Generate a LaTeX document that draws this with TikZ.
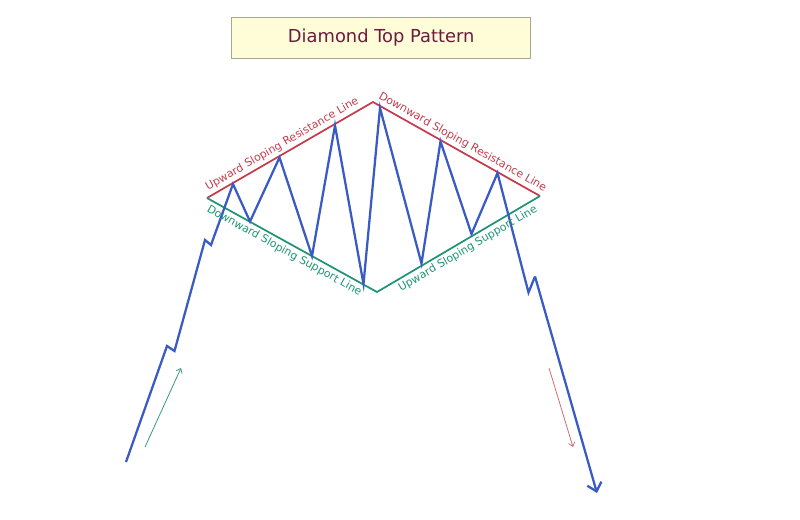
\documentclass[tikz,border=0pt]{standalone}
\usepackage{fontspec}
\setmainfont{DejaVu Sans}
\usetikzlibrary{arrows.meta}
\definecolor{zigblue}{HTML}{3A5BC4}
\definecolor{resred}{HTML}{C43C4C}
\definecolor{supgreen}{HTML}{1E9474}
\definecolor{titlecol}{HTML}{6B1B3F}
\definecolor{boxfill}{HTML}{FFFDD8}
\definecolor{boxline}{HTML}{A8A890}
\definecolor{upgreen}{HTML}{3A9A80}
\definecolor{downred}{HTML}{D07070}
\tikzset{
  zig/.style={draw=zigblue, line width=1.7pt, line join=miter},
  resline/.style={draw=resred, line width=1.3pt},
  supline/.style={draw=supgreen, line width=1.3pt},
  reslabel/.style={text=resred, font=\fontsize{8.2pt}{10pt}\selectfont, inner sep=1pt, sloped},
  suplabel/.style={text=supgreen, font=\fontsize{8.2pt}{10pt}\selectfont, inner sep=1pt, sloped},
  titlebox/.style={draw=boxline, fill=boxfill, line width=0.6pt, minimum width=224.25pt, minimum height=30.75pt, text=titlecol, font=\fontsize{13.4pt}{15pt}\selectfont},
  trendarrow/.style={line width=0.6pt, -{Straight Barb[length=3pt,width=5pt]}}
}
\begin{document}
\begin{tikzpicture}[x=0.75pt,y=-0.75pt]
\useasboundingbox (0,0) rectangle (800,519);
% title
\node[titlebox] (title) at (381.2,37.8) {Diamond Top Pattern};
% diamond vertices
\coordinate (L) at (207,198);
\coordinate (T) at (373,102);
\coordinate (R) at (540,196);
\coordinate (B) at (377,292);
% blue price path
\coordinate (s0) at (126,462);
\coordinate (s1) at (167,346);
\coordinate (s2) at (174.5,351);
\coordinate (s3) at (205,240);
\coordinate (s4) at (211,245);
\coordinate (p1) at (233,184);
\coordinate (t1) at (250,221.5);
\coordinate (p2) at (279.5,157.5);
\coordinate (t2) at (312,256);
\coordinate (p3) at (335,125.5);
\coordinate (t3) at (363.5,284);
\coordinate (p4) at (380,108);
\coordinate (t4) at (421.5,263.5);
\coordinate (p5) at (440.5,141.5);
\coordinate (t5) at (471.5,234);
\coordinate (p6) at (497.5,173);
\coordinate (e1) at (528.5,292.5);
\coordinate (e2) at (535,276.5);
\coordinate (e3) at (597,493);
% lines
\draw[resline] (L) -- (T) -- (R);
\draw[supline] (L) -- (B) -- (R);
\draw[zig] (s0) -- (s1) -- (s2) -- (s3) -- (s4) -- (p1) -- (t1) -- (p2) -- (t2) -- (p3) -- (t3) -- (p4) -- (t4) -- (p5) -- (t5) -- (p6) -- (e1) -- (e2);
\draw[zig, -{Straight Barb[length=6pt,width=11pt]}] (e2) -- (e3);
% labels
\path (L) -- (T) node[reslabel, pos=0.48, above=1.5pt] (lab1) {Upward Sloping Resistance Line};
\path (T) -- (R) node[reslabel, pos=0.51, above=1.5pt] (lab2) {Downward Sloping Resistance Line};
\path (L) -- (B) node[suplabel, pos=0.48, below=1.5pt] (lab3) {Downward Sloping Support Line};
\path (B) -- (R) node[suplabel, pos=0.53, below=1.5pt] (lab4) {Upward Sloping Support Line};
% trend arrows
\coordinate (ga) at (145,447);
\coordinate (gb) at (181,368);
\coordinate (ra) at (549,368);
\coordinate (rb) at (573,447);
\draw[trendarrow, draw=upgreen] (ga) -- (gb);
\draw[trendarrow, draw=downred] (ra) -- (rb);
\end{tikzpicture}
\end{document}
